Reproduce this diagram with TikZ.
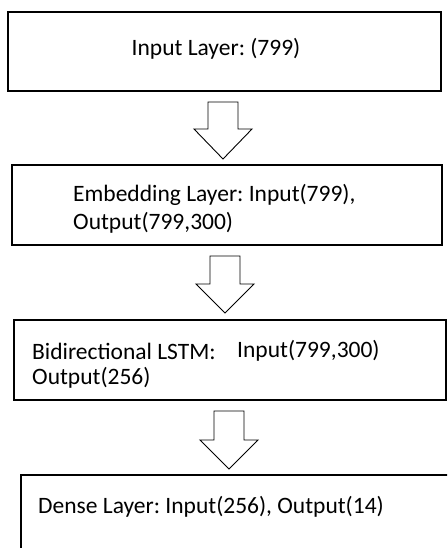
\documentclass[tikz,border=0pt]{standalone}
\usepackage{fontspec}
\setmainfont{Carlito}
\frenchspacing
\begin{document}
\begin{tikzpicture}[x=1pt,y=-1pt,
  layerbox/.style={draw=black,line width=1.1pt},
  label/.style={inner sep=0pt,anchor=west,font=\fontsize{23.5}{28}\selectfont},
  blockarrow/.style={draw=black,line width=0.9pt,fill=white,line join=miter}]
\useasboundingbox (0,0) rectangle (447,548);
\clip (0,0) rectangle (447,548);
% layer boxes
\draw[layerbox] (8,12) rectangle (441,91);
\draw[layerbox] (12,165) rectangle (442,245);
\draw[layerbox] (14,320) rectangle (446,400);
\draw[layerbox] (21,475) rectangle (470,570);
% labels
\node[label,anchor=center] (inp) at (216,49) {Input Layer: (799)};
\node[label] (emb1) at (73,195) {Embedding Layer: Input(799),};
\node[label] (emb2) at (73,223) {Output(799,300)};
\node[label] (lstm1) at (32,351) {Bidirectional LSTM:};
\node[label] (lstm2) at (237,351) {Input(799,300)};
\node[label] (lstm3) at (32,378) {Output(256)};
\node[label] (dense) at (38,507) {Dense Layer: Input(256), Output(14)};
% block arrows between layers
\foreach \cx/\top/\bar/\tip in {223/102/129/159, 225/256/284/313, 229/411/440/469}{
  \draw[blockarrow] (\cx-15,\top) -- (\cx+15,\top) -- (\cx+15,\bar) -- (\cx+29,\bar)
    -- (\cx,\tip) -- (\cx-29,\bar) -- (\cx-15,\bar) -- cycle;
}
\end{tikzpicture}
\end{document}
